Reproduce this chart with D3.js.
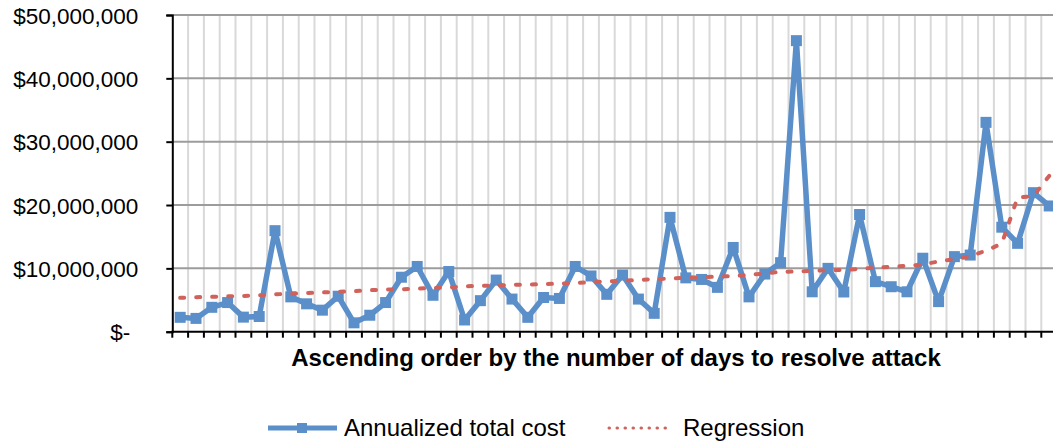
<!DOCTYPE html>
<html lang="en">
<head>
    <meta charset="UTF-8">
    <title>Annualized total cost</title>
    <script src="https://cdn.jsdelivr.net/npm/d3@7/dist/d3.min.js"></script>
    <style>
        body { margin: 0; background: #fff; }
        text { font-family: "Liberation Sans", Arial, sans-serif; fill: #000; }
    </style>
</head>
<body>
    <script>
        //Width and height
        var w = 1053;
        var h = 442;

        //Data, in dollars, one value per attack (ascending days to resolve)
        var costValues = [
            2.27, 2.1, 3.85, 4.6, 2.3, 2.4, 15.95, 5.5, 4.4, 3.4,
            5.6, 1.4, 2.6, 4.6, 8.6, 10.3, 5.75, 9.5, 1.85, 4.9,
            8.15, 5.15, 2.27, 5.4, 5.25, 10.3, 8.8, 5.9, 8.95, 5.15,
            2.9, 18.05, 8.5, 8.25, 7.0, 13.3, 5.5, 9.1, 10.9, 45.95,
            6.3, 10.0, 6.27, 18.5, 7.9, 7.1, 6.3, 11.6, 4.75, 11.85,
            12.1, 33.05, 16.5, 13.95, 21.95, 19.85
        ].map(function(d) { return d * 1e6; });

        var regressionValues = [
            5.35, 5.45, 5.5, 5.6, 5.65, 5.75, 5.9, 6.0, 6.1, 6.2,
            6.3, 6.4, 6.55, 6.65, 6.7, 6.8, 6.9, 7.0, 7.15, 7.25,
            7.3, 7.4, 7.45, 7.5, 7.6, 7.7, 7.8, 7.95, 8.05, 8.15,
            8.3, 8.4, 8.5, 8.6, 8.7, 8.8, 8.95, 9.2, 9.45, 9.5,
            9.6, 9.7, 9.75, 9.9, 10.1, 10.25, 10.4, 10.6, 11.1, 11.45,
            11.9, 12.8, 13.9, 21.2, 21.4, 24.6
        ].map(function(d) { return d * 1e6; });

        var yTicks = [0, 10e6, 20e6, 30e6, 40e6, 50e6];
        var yTickLabels = ["$-", "$10,000,000", "$20,000,000", "$30,000,000", "$40,000,000", "$50,000,000"];

        var xTitle = "Ascending order by the number of days to resolve attack";
        var seriesNames = ["Annualized total cost", "Regression"];

        var blue = "#5b8fca";
        var red = "#d0625b";

        //Plot area (runs a little past the right edge, like the original)
        var plotLeft = 172.3;
        var step = 15.8;
        var plotTop = 15;
        var plotBottom = 331.7;

        //Set up scales
        var xScale = d3.scaleBand()
            .domain(d3.range(costValues.length))
            .range([plotLeft, plotLeft + step * costValues.length])
            .paddingInner(0);

        var yScale = d3.scaleLinear()
            .domain([0, 50e6])
            .range([plotBottom, plotTop]);

        var xMid = function(i) { return xScale(i) + xScale.bandwidth() / 2; };

        //Create SVG element
        var svg = d3.select("body")
            .append("svg")
            .attr("width", w)
            .attr("height", h);

        //Vertical gridlines at category boundaries
        svg.append("g")
            .selectAll("line")
            .data(d3.range(1, costValues.length + 1))
            .enter()
            .append("line")
            .attr("x1", function(d) { return plotLeft + d * xScale.step(); })
            .attr("x2", function(d) { return plotLeft + d * xScale.step(); })
            .attr("y1", plotTop)
            .attr("y2", plotBottom)
            .attr("stroke", "#d9d9d9")
            .attr("stroke-width", 2);

        //Horizontal gridlines
        svg.append("g")
            .selectAll("line")
            .data(yTicks.slice(1))
            .enter()
            .append("line")
            .attr("x1", plotLeft)
            .attr("x2", w)
            .attr("y1", function(d) { return yScale(d); })
            .attr("y2", function(d) { return yScale(d); })
            .attr("stroke", "#9c9c9c")
            .attr("stroke-width", 2);

        //Y axis
        var yAxis = d3.axisLeft(yScale)
            .tickValues(yTicks)
            .tickSize(6)
            .tickFormat(function(d, i) { return yTickLabels[i]; });

        var yG = svg.append("g")
            .attr("transform", "translate(" + plotLeft + ",0)")
            .call(yAxis);
        yG.select(".domain").attr("stroke", "#000").attr("stroke-width", 2);
        yG.selectAll(".tick line").attr("stroke", "#000").attr("stroke-width", 2);
        yG.selectAll(".tick text")
            .style("font-size", "22.5px")
            .style("font-family", "'Liberation Sans', Arial, sans-serif")
            .attr("fill", "#000")
            .attr("dy", "0.36em")
            .attr("x", function(d) { return d === 0 ? -42 : -34; });

        //X axis (ticks between categories, no labels)
        var xG = svg.append("g")
            .attr("transform", "translate(0," + plotBottom + ")");
        xG.append("line")
            .attr("x1", plotLeft - 1)
            .attr("x2", w)
            .attr("stroke", "#000")
            .attr("stroke-width", 2);
        xG.selectAll(".xtick")
            .data(d3.range(0, costValues.length + 1))
            .enter()
            .append("line")
            .attr("class", "xtick")
            .attr("x1", function(d) { return plotLeft + d * xScale.step(); })
            .attr("x2", function(d) { return plotLeft + d * xScale.step(); })
            .attr("y1", 0)
            .attr("y2", 6)
            .attr("stroke", "#000")
            .attr("stroke-width", 2);

        //Axis title
        svg.append("text")
            .attr("x", 616)
            .attr("y", 366)
            .attr("text-anchor", "middle")
            .style("font-size", "24px")
            .style("font-weight", "bold")
            .text(xTitle);

        //Cost line
        var line = d3.line()
            .x(function(d, i) { return xMid(i); })
            .y(function(d) { return yScale(d); });

        svg.append("path")
            .datum(costValues)
            .attr("d", line)
            .attr("fill", "none")
            .attr("stroke", blue)
            .attr("stroke-width", 5.5)
            .attr("stroke-linejoin", "round");

        svg.append("g")
            .selectAll("rect")
            .data(costValues)
            .enter()
            .append("rect")
            .attr("x", function(d, i) { return xMid(i) - 5.5; })
            .attr("y", function(d) { return yScale(d) - 5.5; })
            .attr("width", 11)
            .attr("height", 11)
            .attr("fill", blue);

        //Regression line, dotted
        svg.append("path")
            .datum(regressionValues)
            .attr("d", line)
            .attr("fill", "none")
            .attr("stroke", red)
            .attr("stroke-width", 4)
            .attr("stroke-linecap", "round")
            .attr("stroke-dasharray", "4,12");

        //Legend
        var legend = svg.append("g");
        legend.append("line")
            .attr("x1", 268).attr("x2", 337)
            .attr("y1", 428).attr("y2", 428)
            .attr("stroke", blue)
            .attr("stroke-width", 5);
        legend.append("rect")
            .attr("x", 297).attr("y", 423)
            .attr("width", 10).attr("height", 10)
            .attr("fill", blue);
        legend.append("text")
            .attr("x", 344).attr("y", 436)
            .style("font-size", "24px")
            .text(seriesNames[0]);
        legend.append("line")
            .attr("x1", 609).attr("x2", 670)
            .attr("y1", 428).attr("y2", 428)
            .attr("stroke", red)
            .attr("stroke-width", 3)
            .attr("stroke-linecap", "round")
            .attr("stroke-dasharray", "0.5,7.5");
        legend.append("text")
            .attr("x", 683).attr("y", 436)
            .style("font-size", "24px")
            .text(seriesNames[1]);
    </script>
</body>
</html>
